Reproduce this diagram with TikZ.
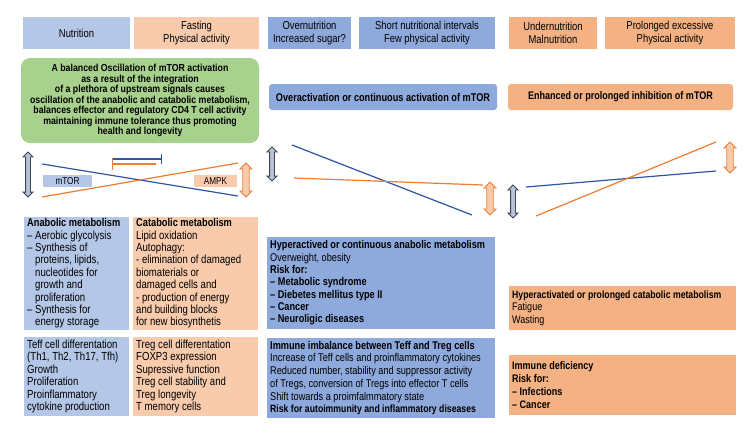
\documentclass[tikz,border=0pt]{standalone}
\usepackage{fontspec}
\setmainfont{Liberation Sans}[FakeStretch=0.82]
\newfontfamily\gfont{Liberation Sans}[FakeStretch=0.86]
\usetikzlibrary{shapes.arrows,arrows.meta}
\definecolor{lblue}{HTML}{B4C7E7}
\definecolor{peach}{HTML}{F8CBAD}
\definecolor{mblue}{HTML}{8EA9DB}
\definecolor{orng}{HTML}{F4B183}
\definecolor{grn}{HTML}{A9D18E}
\definecolor{lineblue}{HTML}{2F55A4}
\definecolor{lineorange}{HTML}{ED7D31}
\definecolor{arrgray}{HTML}{B8C3D6}
\definecolor{arrdark}{HTML}{3B4556}
\newcommand{\hd}[1]{{\fontsize{11.3}{12.5}\selectfont\bfseries #1}}
\newcommand{\ind}{\hphantom{– }}
\begin{document}
\begin{tikzpicture}[x=1pt,y=-1pt,
  box/.style={anchor=north west, inner sep=0pt, outer sep=0pt, draw=none},
  hdr/.style={box, align=center, minimum height=32pt, font=\fontsize{11.5}{13.5}\selectfont},
  ptext/.style={anchor=west, align=left, inner sep=0pt, font=\fontsize{11.2}{12.3}\selectfont},
  ltext/.style={ptext, font=\fontsize{11.7}{12.4}\selectfont},
  bline/.style={draw=lineblue, line width=1.2pt},
  oline/.style={draw=lineorange, line width=1.2pt},
  dblg/.style={double arrow, rotate=90, draw=arrdark, fill=arrgray, line width=0.8pt,
     inner xsep=0pt, inner ysep=2pt, double arrow head extend=2.5pt, minimum width=0pt},
  dblo/.style={double arrow, rotate=90, draw=lineorange, fill=peach, line width=0.8pt,
     inner xsep=0pt, inner ysep=2.8pt, double arrow head extend=2.8pt, minimum width=0pt}
]
\useasboundingbox (0,0) rectangle (756,432);
\fill[white] (0,0) rectangle (756,432);

% header row
\node[hdr, fill=lblue, minimum width=107pt] (hNut) at (23,17) {Nutrition};
\node[hdr, fill=peach, minimum width=125pt] (hFast) at (134,17) {Fasting\\Physical activity};
\node[hdr, fill=mblue, minimum width=83pt] (hOver) at (268,17) {Overnutrition\\Increased sugar?};
\node[hdr, fill=mblue, minimum width=136pt] (hShort) at (359,17) {Short nutritional intervals\\Few physical activity};
\node[hdr, fill=orng, minimum width=88pt] (hUnder) at (509,17) {Undernutrition\\Malnutrition};
\node[hdr, fill=orng, minimum width=130pt] (hProl) at (605,17) {Prolonged excessive\\Physical activity};

% green box
\node[box, fill=grn, rounded corners=9pt, minimum width=238pt, minimum height=85pt, align=center,
  font=\gfont\fontsize{10.2}{10.5}\selectfont\bfseries] (green) at (21,58)
  {A balanced Oscillation of mTOR activation\\as a result of the integration\\of a plethora of upstream signals causes\\oscillation of the anabolic and catabolic metabolism,\\balances effector and regulatory CD4 T cell activity\\maintaining immune tolerance thus promoting\\health and longevity};

% state boxes
\node[box, fill=mblue, rounded corners=3pt, minimum width=228pt, minimum height=26pt,
  font=\fontsize{11.2}{12}\selectfont\bfseries] (overact) at (269,84) {Overactivation or continuous activation of mTOR};
\node[box, fill=orng, rounded corners=3pt, minimum width=225pt, minimum height=26pt,
  font=\fontsize{11}{12}\selectfont\bfseries] (enhinh) at (508,84) {Enhanced or prolonged inhibition of mTOR};

% mTOR / AMPK labels
\node[box, fill=lblue, minimum width=49pt, minimum height=12pt, font=\fontsize{10}{11}\selectfont] (mtor) at (43,175) {mTOR};
\node[box, fill=peach, minimum width=43pt, minimum height=12pt, font=\fontsize{10}{11}\selectfont] (ampk) at (194,175) {AMPK};

% double arrows
\node[dblg, minimum height=45pt] (dA) at (28,174.5) {};
\node[dblo, minimum height=34pt] (dB) at (246,180) {};
\node[dblg, minimum height=34pt] (dC) at (272,164) {};
\node[dblo, minimum height=33pt] (dD) at (490,198.5) {};
\node[dblg, minimum height=33pt] (dE) at (513,201.5) {};
\node[dblo, minimum height=31pt] (dF) at (730,157.5) {};

% oscillation lines
\coordinate (b1s) at (42,164); \coordinate (b1e) at (238,196);
\coordinate (o1s) at (42,197); \coordinate (o1e) at (238,163);
\draw[bline] (b1s) -- (b1e);
\draw[oline] (o1s) -- (o1e);
\coordinate (b2s) at (292,145); \coordinate (b2e) at (472,215);
\coordinate (o2s) at (294,178); \coordinate (o2e) at (483,185);
\draw[bline] (b2s) -- (b2e);
\draw[oline] (o2s) -- (o2e);
\coordinate (b3s) at (526,187); \coordinate (b3e) at (716,171);
\coordinate (o3s) at (536,216); \coordinate (o3e) at (716,142);
\draw[bline] (b3s) -- (b3e);
\draw[oline] (o3s) -- (o3e);

% mutual inhibition
\coordinate (ib1) at (113,159); \coordinate (ib2) at (162,159);
\draw[bline, -{Bar[width=10pt,line width=1.2pt]}] (ib1) -- (ib2);
\coordinate (io1) at (112,164); \coordinate (io2) at (156,164);
\draw[oline, {Bar[width=12pt,line width=1.2pt]}-] (io1) -- (io2);

% left column boxes
\node[box, fill=lblue, minimum width=105pt, minimum height=113pt] (anab) at (24,217) {};
\node[ltext] (anabT) at ([xshift=3pt]anab.west)
 {\hd{Anabolic metabolism}\\
  – Aerobic glycolysis\\
  – Synthesis of\\
  \ind proteins, lipids,\\
  \ind nucleotides for\\
  \ind growth and\\
  \ind proliferation\\
  – Synthesis for\\
  \ind energy storage};
\node[box, fill=peach, minimum width=125pt, minimum height=113pt] (catab) at (133,217) {};
\node[ltext] (catabT) at ([xshift=3pt]catab.west)
 {\hd{Catabolic metabolism}\\
  Lipid oxidation\\
  Autophagy:\\
  - elimination of damaged\\
  biomaterials or\\
  damaged cells and\\
  - production of energy\\
  and building blocks\\
  for new biosynthetis};
\node[box, fill=lblue, minimum width=105pt, minimum height=79pt] (teff) at (24,337) {};
\node[ltext] (teffT) at ([xshift=3pt]teff.west)
 {Teff cell differentation\\
  (Th1, Th2, Th17, Tfh)\\
  Growth\\
  Proliferation\\
  Proinflammatory\\
  cytokine production};
\node[box, fill=peach, minimum width=125pt, minimum height=79pt] (treg) at (133,337) {};
\node[ltext] (tregT) at ([xshift=3pt]treg.west)
 {Treg cell differentation\\
  FOXP3 expression\\
  Supressive function\\
  Treg cell stability and\\
  Treg longevity\\
  T memory cells};

% middle column boxes
\node[box, fill=mblue, minimum width=228pt, minimum height=92pt] (hyper) at (267,237) {};
\node[ptext] (hyperT) at ([xshift=3pt]hyper.west)
 {\textbf{Hyperactived or continuous anabolic metabolism}\\
  Overweight, obesity\\
  \textbf{Risk for:}\\
  \textbf{– Metabolic syndrome}\\
  \textbf{– Diebetes mellitus type II}\\
  \textbf{– Cancer}\\
  \textbf{– Neuroligic diseases}};
\node[box, fill=mblue, minimum width=228pt, minimum height=80pt] (imbal) at (267,338) {};
\node[ptext, font=\fontsize{11.2}{12.7}\selectfont] (imbalT) at ([xshift=3pt]imbal.west)
 {\textbf{Immune imbalance between Teff and Treg cells}\\
  Increase of Teff cells and proinflammatory cytokines\\
  Reduced number, stability and suppressor activity\\
  of Tregs, conversion of Tregs into effector T cells\\
  Shift towards a proimfalmmatory state\\
  {\fontsize{10.6}{12.7}\selectfont\bfseries Risk for autoimmunity and inflammatory diseases}};

% right column boxes
\node[box, fill=orng, minimum width=227pt, minimum height=44pt] (hypcat) at (509,286) {};
\node[ptext, font=\fontsize{11}{12.5}\selectfont] (hypcatT) at ([xshift=3pt]hypcat.west)
 {{\fontsize{10.6}{12.5}\selectfont\bfseries Hyperactivated or prolonged catabolic metabolism}\\
  Fatigue\\
  Wasting};
\node[box, fill=orng, minimum width=227pt, minimum height=60pt] (immdef) at (509,355) {};
\node[ptext, font=\fontsize{11}{13}\selectfont\bfseries] (immdefT) at ([xshift=3pt]immdef.west)
 {Immune deficiency\\
  Risk for:\\
  – Infections\\
  – Cancer};
\end{tikzpicture}
\end{document}
